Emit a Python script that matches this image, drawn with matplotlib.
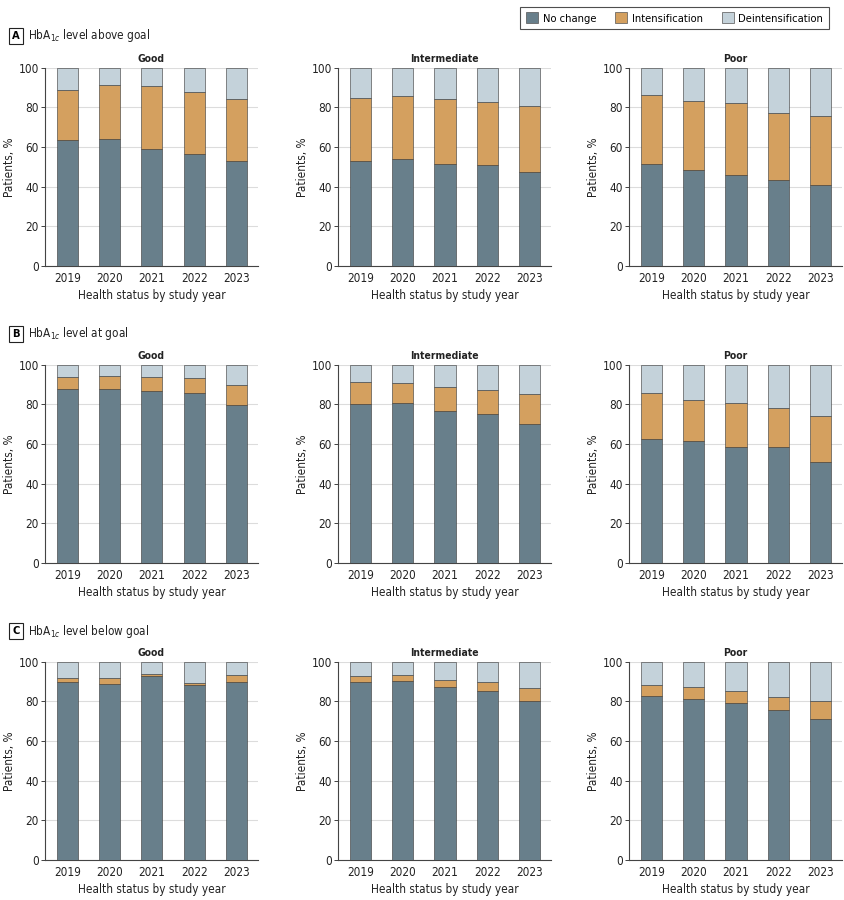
import matplotlib
matplotlib.use("Agg")
import matplotlib.pyplot as plt
import numpy as np
from matplotlib.patches import Patch

plt.rcParams['font.family'] = ['DejaVu Sans']
plt.rcParams['font.stretch'] = 'condensed'
plt.rcParams['mathtext.fontset'] = 'dejavusans'

years = ['2019', '2020', '2021', '2022', '2023']
statuses = ['Good', 'Intermediate', 'Poor']
panelTitles = ['HbA$_{1c}$ level above goal', 'HbA$_{1c}$ level at goal', 'HbA$_{1c}$ level below goal']
panelLetters = ['A', 'B', 'C']
seriesLabels = ['No change', 'Intensification', 'Deintensification']

# rows: above goal / at goal / below goal; each has Good, Intermediate, Poor
aboveNoChange = [[63.5, 64, 59, 56.5, 53], [53, 54, 51.5, 51, 47.5], [51.5, 48.5, 46, 43.5, 41]]
aboveIntens = [[25, 27, 31.5, 31, 31], [31.5, 31.5, 32.5, 31.5, 33], [34.5, 34.5, 36, 33.5, 34.5]]
aboveDeint = [[11.5, 9, 9.5, 12.5, 16], [15.5, 14.5, 16, 17.5, 19.5], [14, 17, 18, 23, 24.5]]

atNoChange = [[87.5, 87.5, 86.5, 85.5, 79.5], [80, 80.5, 76.5, 75, 70], [62.5, 61.5, 58.5, 58.5, 51]]
atIntens = [[6, 6.5, 7, 7.5, 10], [11, 10, 12, 12, 15], [23, 20.5, 22, 19.5, 23]]
atDeint = [[6.5, 6, 6.5, 7, 10.5], [9, 9.5, 11.5, 13, 15], [14.5, 18, 19.5, 22, 26]]

belowNoChange = [[89.5, 88.5, 92.5, 88, 89.5], [89.5, 90, 87, 85, 80], [82.5, 81, 79, 75.5, 71]]
belowIntens = [[2, 3, 1, 1, 3.5], [3, 3, 3.5, 4.5, 6.5], [5.5, 6, 6, 6.5, 9]]
belowDeint = [[8.5, 8.5, 6.5, 11, 7], [7.5, 7, 9.5, 10.5, 13.5], [12, 13, 15, 18, 20]]

rowData = [(aboveNoChange, aboveIntens, aboveDeint),
           (atNoChange, atIntens, atDeint),
           (belowNoChange, belowIntens, belowDeint)]

colors = ['#687f8b', '#d4a05f', '#c4d2da']

fig = plt.figure(figsize=(8.44, 9.0), dpi=100)

colLeft = [0.0533, 0.4005, 0.7453]
rowBottom = [0.7044, 0.3744, 0.0444]
axW = 0.2524
axH = 0.2205
headerY = [36, 334, 631]

index = np.arange(len(years))
for r in range(3):
    nc, it, de = rowData[r]
    for c in range(3):
        ax = fig.add_axes([colLeft[c], rowBottom[r], axW, axH])
        a = np.array(nc[c])
        b = np.array(it[c])
        d = np.array(de[c])
        kw = dict(width=0.5, edgecolor='#333333', linewidth=0.4, zorder=3)
        ax.bar(index, a, color=colors[0], **kw)
        ax.bar(index, b, bottom=a, color=colors[1], **kw)
        ax.bar(index, d, bottom=a + b, color=colors[2], **kw)
        ax.set_xlim(-0.53, 4.51)
        ax.set_ylim(0, 100)
        ax.set_yticks([0, 20, 40, 60, 80, 100])
        ax.set_xticks(index)
        ax.set_xticklabels(years)
        ax.yaxis.grid(True, color='#dcdcdc', linewidth=0.8, zorder=0)
        ax.set_axisbelow(True)
        ax.spines['top'].set_visible(False)
        ax.spines['right'].set_visible(False)
        ax.spines['left'].set_color('#444444')
        ax.spines['bottom'].set_color('#444444')
        ax.tick_params(axis='x', length=0, labelsize=8.5, pad=4, colors='#222222')
        ax.tick_params(axis='y', length=3, width=0.6, labelsize=8.5, pad=1.5, colors='#222222')
        ax.set_xlabel('Health status by study year', fontsize=8.5, labelpad=3, color='#222222')
        ax.set_ylabel('Patients, %', fontsize=8.5, labelpad=2, color='#222222')
        ax.set_title(statuses[c], fontsize=7.5, fontweight='bold', pad=4, color='#222222')

    # panel header
    y = 1 - headerY[r] / 900
    fig.text(16 / 844, y, panelLetters[r], fontsize=8, fontweight='bold', ha='center', va='center',
             bbox=dict(boxstyle='square,pad=0.3', facecolor='white', edgecolor='#222222', linewidth=0.8))
    fig.text(28 / 844, y, panelTitles[r], fontsize=8.5, ha='left', va='center', color='#222222')

handles = [Patch(facecolor=colors[i], edgecolor='#555555', linewidth=0.5, label=seriesLabels[i]) for i in range(3)]
leg = fig.legend(handles=handles, loc='center', bbox_to_anchor=(0.7992, 1 - 18 / 900), ncol=3,
                 fontsize=8, frameon=True, fancybox=False, edgecolor='#222222',
                 handlelength=1.1, handleheight=1.1, columnspacing=1.7, handletextpad=0.4,
                 borderpad=0.5)
leg.get_frame().set_linewidth(0.8)

fig.savefig('out.png', dpi=100)
